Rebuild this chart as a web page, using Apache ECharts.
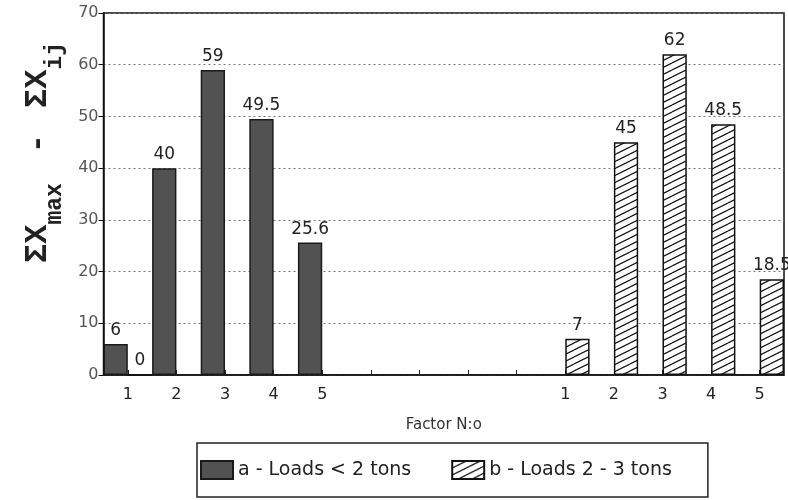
<!DOCTYPE html>
<html>
<head>
<meta charset="utf-8">
<script src="https://cdn.jsdelivr.net/npm/echarts@6/dist/echarts.min.js"></script>
<style>
  html, body { margin: 0; padding: 0; background: #fff; }
  #chart { width: 788px; height: 500px; }
</style>
</head>
<body>
<div id="chart"></div>
<script>
  // factor axis: 5 factors, 4 empty slots, 5 factors
  const factorLabels = ["1", "2", "3", "4", "5", "", "", "", "", "1", "2", "3", "4", "5"];
  // a - Loads < 2 tons
  const loadsUnder2 = [6, 40, 59, 49.5, 25.6, null, null, null, null, null, null, null, null, null];
  // b - Loads 2 - 3 tons (the "0" next to factor 1 of group a is printed on the chart)
  const loads2to3 = [0, null, null, null, null, null, null, null, null, 7, 45, 62, 48.5, 18.5];
  const yMin = 0, yMax = 70, yStep = 10;

  const FONT = "DejaVu Sans";

  // diagonal hatch for the b bars
  function makeHatch() {
    const w = 14, h = 7;
    const c = document.createElement("canvas");
    c.width = w;
    c.height = h;
    const g = c.getContext("2d");
    g.fillStyle = "#fff";
    g.fillRect(0, 0, w, h);
    g.strokeStyle = "#111";
    g.lineWidth = 1.2;
    g.beginPath();
    [-h, 0, h].forEach(function (off) {
      g.moveTo(0, h + off);
      g.lineTo(w, off);
    });
    g.stroke();
    return c;
  }

  let chart = echarts.init(document.getElementById("chart"));

  let option = {
    backgroundColor: "#fff",
    animation: false,
    grid: {
      left: 103,
      right: 4,
      top: 13,
      bottom: 125,
      show: true,
      borderColor: "#111",
      borderWidth: 1.5
    },
    legend: {
      left: 197,
      top: 443,
      itemWidth: 32,
      itemHeight: 18,
      itemGap: 40,
      padding: [17, 36, 17, 3],
      borderColor: "#222",
      borderWidth: 1.5,
      icon: "rect",
      textStyle: { fontFamily: FONT, fontSize: 19, color: "#222" },
      data: ["a - Loads < 2 tons", "b - Loads 2 - 3 tons"]
    },
    xAxis: {
      type: "category",
      data: factorLabels,
      name: "Factor N:o",
      nameLocation: "middle",
      nameGap: 43,
      nameTextStyle: { fontFamily: FONT, fontSize: 15, color: "#333" },
      axisLine: { lineStyle: { color: "#111", width: 1.5 } },
      axisTick: { show: true, inside: true, alignWithLabel: true, length: 5, lineStyle: { color: "#222" } },
      axisLabel: { interval: 0, margin: 12, fontFamily: FONT, fontSize: 16, color: "#222" },
      splitLine: { show: false }
    },
    yAxis: {
      type: "value",
      min: yMin,
      max: yMax,
      interval: yStep,
      axisLine: { show: true, lineStyle: { color: "#111", width: 1.5 } },
      axisTick: { show: true, length: 5, lineStyle: { color: "#111" } },
      axisLabel: { fontFamily: FONT, fontSize: 16, color: "#555", margin: 5 },
      splitLine: { show: true, lineStyle: { type: [2, 3], color: "#777", width: 1 } },
      name: "{p|ΣX}{s|max}{d|-}{m|ΣX}{s|ij}",
      nameLocation: "middle",
      nameRotate: 90,
      nameGap: 49,
      nameTextStyle: {
        color: "#111",
        rich: {
          p: { fontFamily: "Liberation Mono", fontWeight: "bold", fontSize: 32, lineHeight: 34, color: "#222", padding: [0, 0, 0, 83] },
          m: { fontFamily: "Liberation Mono", fontWeight: "bold", fontSize: 32, lineHeight: 34, color: "#222" },
          d: { fontFamily: "Liberation Mono", fontWeight: "bold", fontSize: 32, lineHeight: 34, color: "#222", padding: [0, 26, 0, 30] },
          s: { fontFamily: "Liberation Mono", fontWeight: "bold", fontSize: 23, lineHeight: 26, color: "#222", padding: [36, 0, 0, 0] }
        }
      }
    },
    series: [
      {
        name: "a - Loads < 2 tons",
        type: "bar",
        data: loadsUnder2,
        barGap: "0%",
        barCategoryGap: "0%",
        itemStyle: { color: "#525252", borderColor: "#1a1a1a", borderWidth: 1.5 },
        label: { show: true, position: "top", distance: 5, fontFamily: FONT, fontSize: 17, color: "#222" }
      },
      {
        name: "b - Loads 2 - 3 tons",
        type: "bar",
        data: loads2to3,
        barGap: "0%",
        barCategoryGap: "0%",
        itemStyle: { color: { image: makeHatch(), repeat: "repeat" }, borderColor: "#111", borderWidth: 1.5 },
        label: { show: true, position: "top", distance: 5, fontFamily: FONT, fontSize: 17, color: "#222" }
      }
    ]
  };

  chart.setOption(option);
  window.addEventListener("resize", () => {
    chart.resize();
  });
</script>
</body>
</html>
